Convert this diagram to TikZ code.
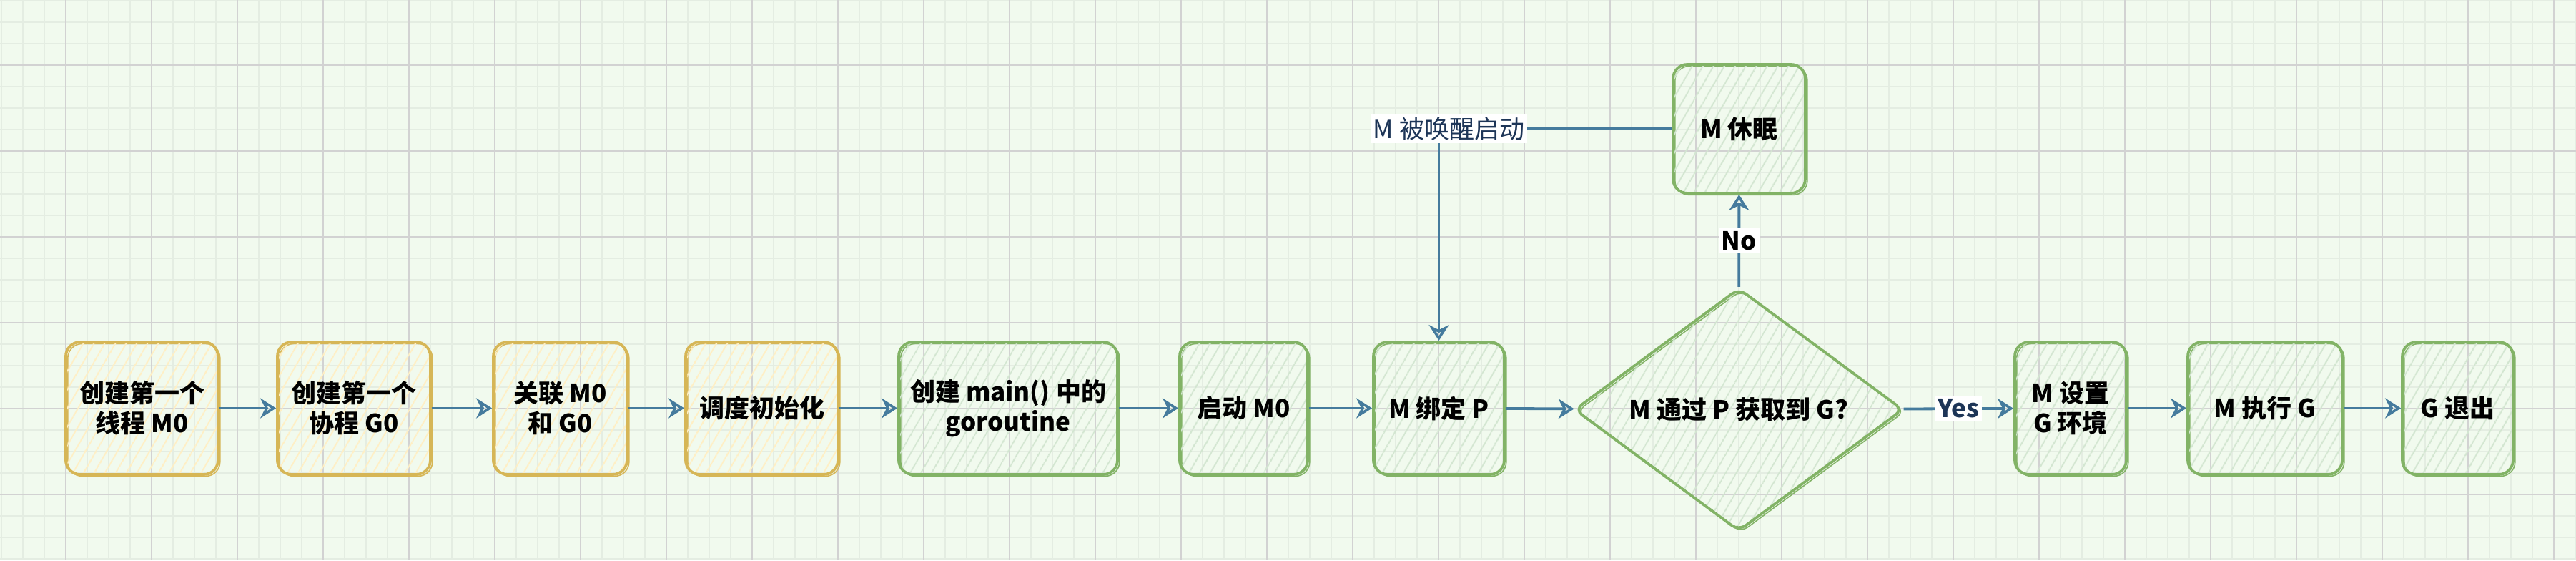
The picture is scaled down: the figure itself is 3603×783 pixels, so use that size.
\documentclass[tikz,border=0pt]{standalone}
\usepackage{fontspec}
\setmainfont{Noto Sans CJK SC}
\usetikzlibrary{arrows.meta,shapes.geometric,patterns.meta}
\definecolor{bgc}{HTML}{F1FAEE}
\definecolor{minorc}{HTML}{E4EDE2}
\definecolor{majorc}{HTML}{D2D2D2}
\definecolor{ystroke}{HTML}{D6B656}
\definecolor{yfill}{HTML}{FFEFC4}
\definecolor{gstroke}{HTML}{82B366}
\definecolor{gfill}{HTML}{D3E6D1}
\definecolor{arrowc}{HTML}{457B9D}
\definecolor{navy}{HTML}{1D3557}
\newcommand{\nodefont}{\fontsize{17.5pt}{21pt}\selectfont\bfseries}
\newcommand{\plainfont}{\fontsize{17.5pt}{21pt}\selectfont}
\tikzset{
  bw/.style={minimum width=#1*0.5pt},
  bh/.style={minimum height=#1*0.5pt},
  basebox/.style={rounded corners=10pt, line width=1.9pt, inner sep=2pt,
    align=center, font=\nodefont, text=black, bh=185},
  ybox/.style={basebox, draw=ystroke,
    pattern={Lines[angle=60,distance=6.5pt,line width=1.1pt]}, pattern color=yfill,
    preaction={draw=ystroke, line width=0.8pt, transform canvas={shift={(1.4pt,-1.2pt)}}}},
  gbox/.style={basebox, draw=gstroke,
    pattern={Lines[angle=60,distance=6.5pt,line width=1.1pt]}, pattern color=gfill,
    preaction={draw=gstroke, line width=0.8pt, transform canvas={shift={(1.4pt,-1.2pt)}}}},
  gdiam/.style={shape=diamond, draw=gstroke, line width=1.9pt, inner sep=0pt,
    rounded corners=6pt, font=\nodefont, text=black,
    pattern={Lines[angle=60,distance=6.5pt,line width=1.1pt]}, pattern color=gfill,
    preaction={draw=gstroke, line width=0.8pt, transform canvas={shift={(1.4pt,-1.2pt)}}}},
  arr/.style={draw=arrowc, line width=1.9pt,
    -{Stealth[open, length=11pt, width=14pt, inset=3.5pt, line width=1.8pt]}},
  elabel/.style={fill=white, inner sep=2pt, font=\nodefont, text=navy},
  wlabel/.style={fill=white, inner sep=2pt, font=\plainfont, text=navy},
}
\begin{document}
\begin{tikzpicture}[x=0.5pt, y=-0.5pt]
\useasboundingbox (0,0) rectangle (3603,783);
\fill[bgc] (0,0) rectangle (3603,783);
% grid
\foreach \gx in {1.7,31.7,...,3602}
  \draw[minorc, line width=1pt] (\gx,0) -- (\gx,783);
\foreach \gy in {1.3,31.3,...,783}
  \draw[minorc, line width=1pt] (0,\gy) -- (3603,\gy);
\foreach \gx in {91.7,211.7,...,3602}
  \draw[majorc, line width=1pt] (\gx,0) -- (\gx,783);
\foreach \gy in {91.3,211.3,...,783}
  \draw[majorc, line width=1pt] (0,\gy) -- (3603,\gy);

% nodes
\node[ybox, bw=213] (n1) at (198.5,570.5) {创建第一个\\线程 M0};
\node[ybox, bw=214] (n2) at (495,570.5) {创建第一个\\协程 G0};
\node[ybox, bw=187] (n3) at (783.5,570.5) {关联 M0\\和 G0};
\node[ybox, bw=213] (n4) at (1065.5,570.5) {调度初始化};
\node[gbox, bw=306] (n5) at (1410,570.5) {创建 main() 中的\\goroutine};
\node[gbox, bw=179] (n6) at (1739.5,570.5) {启动 M0};
\node[gbox, bw=183] (n7) at (2012.5,570.5) {M 绑定 P};
\node[gdiam, bw=460, bh=231] (dec) at (2432,572.5) {M 通过 P 获取到 G?};
\node[gbox, bw=156] (n8) at (2896,570.5) {M 设置\\G 环境};
\node[gbox, bw=216] (n9) at (3168,570.5) {M 执行 G};
\node[gbox, bw=155] (n10) at (3437.5,570.5) {G 退出};
\node[gbox, bw=185, bh=180] (sleep) at (2432.5,180) {M 休眠};

% connectors
\draw[arr] (n1) -- (n2);
\draw[arr] (n2) -- (n3);
\draw[arr] (n3) -- (n4);
\draw[arr] (n4) -- (n5);
\draw[arr] (n5) -- (n6);
\draw[arr] (n6) -- (n7);
\draw[arr] (n7) -- (dec);
\draw[arr] (dec) -- node[elabel] {Yes} (n8);
\draw[arr] (n8) -- (n9);
\draw[arr] (n9) -- (n10);
\draw[arr] (dec) -- node[elabel, text=black] {No} (sleep);
\draw[arr] (sleep.west) -| node[wlabel, pos=0.5, xshift=7pt] {M 被唤醒启动} (n7.north);
\end{tikzpicture}
\end{document}
